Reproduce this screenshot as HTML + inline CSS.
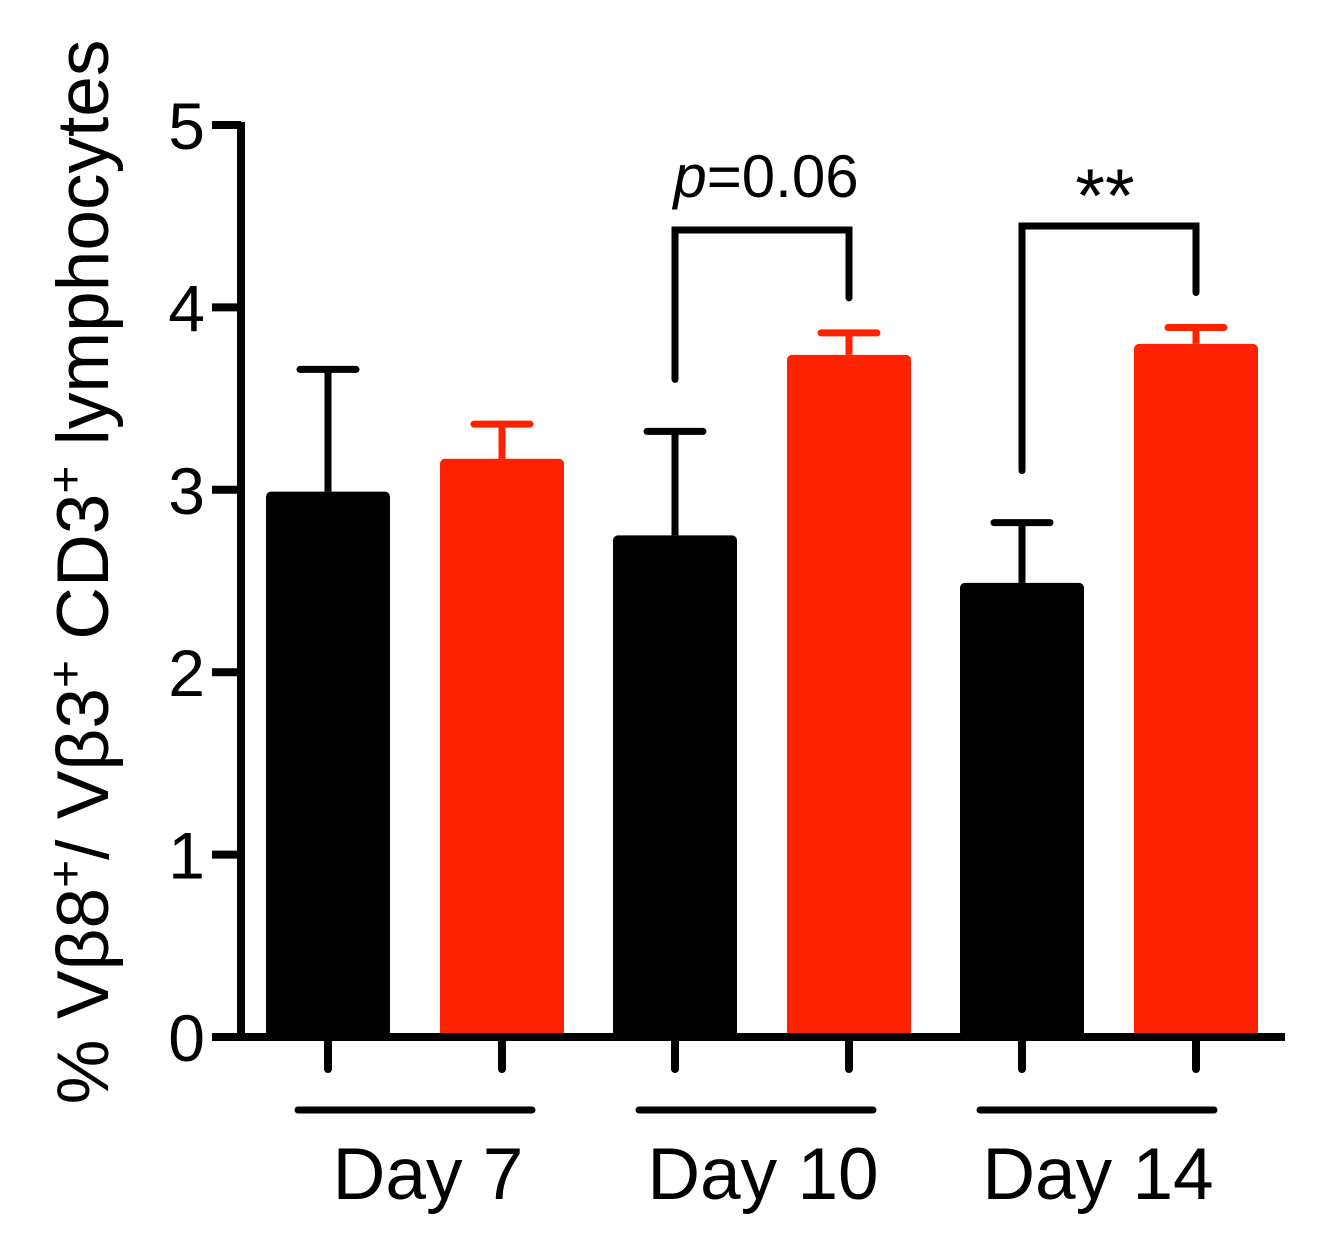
<!DOCTYPE html>
<html><head><meta charset="utf-8"><style>
body{margin:0;background:#fff}
svg{display:block;font-family:"Liberation Sans",Arial,sans-serif}
</style></head><body>
<svg id="chart" width="1324" height="1251" viewBox="0 0 1324 1251">
</svg>
<script>
const groups = ["Day 7","Day 10","Day 14"];
const controlValues = [2.99, 2.75, 2.49];
const controlErrors = [0.67, 0.57, 0.33];
const treatedValues = [3.17, 3.74, 3.80];
const treatedErrors = [0.19, 0.12, 0.09];
const yTicks = [0,1,2,3,4,5];
const sigLabels = ["", "p=0.06", "**"];

const NS="http://www.w3.org/2000/svg";
const svg=document.getElementById('chart');
const y0=1037, pxPerUnit=182.4;
function yScale(v){return y0-v*pxPerUnit;}
function groupCenter(i){return 415+i*347;}
function el(tag,attrs,parent){const e=document.createElementNS(NS,tag);for(const k in attrs)e.setAttribute(k,attrs[k]);(parent||svg).appendChild(e);return e;}
const bw=124;
groups.forEach((g,i)=>{
  const c=groupCenter(i);
  [[c-87,controlValues[i],controlErrors[i],'#000'],[c+87,treatedValues[i],treatedErrors[i],'#ff2200']].forEach(([x,v,e,col],j)=>{
    const top=yScale(v), et=yScale(v+e);
    const ln=el('line',{x1:x,x2:x,y1:top,y2:et,stroke:col,'stroke-width':7});
    
    
    const cap=el('line',{x1:x-28,x2:x+28,y1:et,y2:et,stroke:col,'stroke-width':7,'stroke-linecap':'round'});
    
    
    const r=el('rect',{x:x-bw/2,y:top,width:bw,height:y0-top,fill:col,rx:5});
    
    
    const t=el('line',{x1:x,x2:x,y1:y0,y2:y0+32,stroke:'#000','stroke-width':8,'stroke-linecap':'round'});
    
    
  });
  const uc=415+i*341;
  const ul=el('line',{x1:uc-117,x2:uc+117,y1:1110,y2:1110,stroke:'#000','stroke-width':7,'stroke-linecap':'round'});
  
  
  const lbl=el('text',{x:428+i*335,y:1199,'font-size':73,'text-anchor':'middle'});
  lbl.textContent=g;
  
  
  if(sigLabels[i]){
    const xl=c-87,xr=c+87;
    const lt=yScale(controlValues[i]+controlErrors[i])-52, rt=yScale(treatedValues[i]+treatedErrors[i])-35;
    const topY=i===1?230:226;
    const p=el('polyline',{points:`${xl},${lt} ${xl},${topY} ${xr},${topY} ${xr},${rt}`,fill:'none',stroke:'#000','stroke-width':7,'stroke-linecap':'round'});
    
    
    const st=el('text',{x:i===1?766:1105,y:i===1?197:222,'font-size':i===1?60:76,'text-anchor':'middle'});
    if(i===1){st.innerHTML='<tspan font-style="italic">p</tspan>=0.06';}else st.textContent=sigLabels[i];
    
    
  }
});
const ya=el('line',{x1:241,x2:241,y1:122,y2:1041,stroke:'#000','stroke-width':8});


const xa=el('line',{x1:212,x2:1285,y1:y0,y2:y0,stroke:'#000','stroke-width':8});


yTicks.forEach(v=>{
  const yy=yScale(v);
  const t=el('line',{x1:212,x2:241,y1:yy,y2:yy,stroke:'#000','stroke-width':8});
  
  
  const l=el('text',{x:205,y:yy+24,'font-size':66,'text-anchor':'end'});
  l.textContent=v;
  
  
});
const yt=el('text',{x:0,y:0,'font-size':73,'text-anchor':'middle',transform:'translate(108,572) rotate(-90)'});
yt.innerHTML='% Vβ8<tspan dy="-26" font-size="48">+</tspan><tspan dy="26">/ Vβ3</tspan><tspan dy="-26" font-size="48">+</tspan><tspan dy="26"> CD3</tspan><tspan dy="-26" font-size="48">+</tspan><tspan dy="26"> lymphocytes</tspan>';


</script>
</body></html>
